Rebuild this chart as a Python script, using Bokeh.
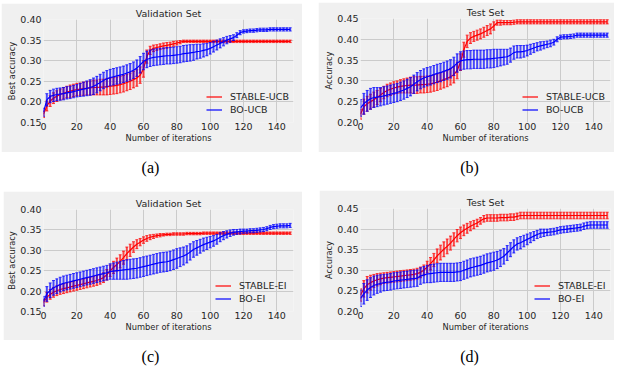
import numpy as np
from bokeh.plotting import figure
from bokeh.layouts import column, row
from bokeh.models import (Range1d, FixedTicker, NumeralTickFormatter, Legend,
                          LegendItem, Label)
from bokeh.embed import file_html
from bokeh.resources import INLINE

# ---------------------------------------------------------------- data
iterations = np.arange(0, 150, 2)
x_ticks = [0, 20, 40, 60, 80, 100, 120, 140]
val_ticks = [0.15, 0.20, 0.25, 0.30, 0.35, 0.40]
test_ticks = [0.20, 0.25, 0.30, 0.35, 0.40, 0.45]
captions = ["(a)", "(b)", "(c)", "(d)"]

# (a) validation set, UCB
val_ucb_stable = [
    0.170, 0.190, 0.202, 0.209, 0.214, 0.218, 0.221, 0.224, 0.226, 0.228,
    0.230, 0.231, 0.232, 0.233, 0.234, 0.235, 0.235, 0.236, 0.236, 0.237,
    0.238, 0.239, 0.240, 0.242, 0.244, 0.247, 0.250, 0.254, 0.258, 0.265,
    0.280, 0.310, 0.325, 0.330, 0.332, 0.334, 0.336, 0.337, 0.339, 0.341,
    0.343, 0.345, 0.347, 0.347, 0.347, 0.347, 0.347, 0.347, 0.347, 0.347,
    0.347, 0.347, 0.347, 0.347, 0.347, 0.347, 0.347, 0.347, 0.347, 0.347,
    0.347, 0.347, 0.347, 0.347, 0.347, 0.347, 0.347, 0.347, 0.347, 0.347,
    0.347, 0.347, 0.347, 0.347, 0.347]
val_ucb_stable_err = [
    0.008, 0.012, 0.013, 0.013, 0.013, 0.013, 0.014, 0.014, 0.015, 0.015,
    0.015, 0.015, 0.016, 0.016, 0.017, 0.018, 0.018, 0.019, 0.019, 0.020,
    0.020, 0.020, 0.020, 0.020, 0.020, 0.020, 0.020, 0.020, 0.020, 0.020,
    0.020, 0.016, 0.010, 0.008, 0.007, 0.007, 0.007, 0.007, 0.006, 0.006,
    0.005, 0.004, 0.003, 0.003, 0.003, 0.003, 0.003, 0.003, 0.003, 0.003,
    0.003, 0.003, 0.003, 0.003, 0.003, 0.003, 0.003, 0.003, 0.003, 0.003,
    0.003, 0.003, 0.003, 0.003, 0.003, 0.003, 0.003, 0.003, 0.003, 0.003,
    0.003, 0.003, 0.003, 0.003, 0.003]
val_ucb_bo = [
    0.175, 0.205, 0.213, 0.216, 0.218, 0.219, 0.220, 0.222, 0.223, 0.225,
    0.227, 0.229, 0.231, 0.233, 0.235, 0.238, 0.242, 0.247, 0.252, 0.256,
    0.259, 0.261, 0.263, 0.265, 0.267, 0.270, 0.273, 0.277, 0.282, 0.290,
    0.298, 0.303, 0.306, 0.308, 0.309, 0.310, 0.311, 0.312, 0.312, 0.313,
    0.314, 0.315, 0.317, 0.318, 0.319, 0.320, 0.322, 0.323, 0.325, 0.327,
    0.330, 0.334, 0.338, 0.342, 0.346, 0.350, 0.353, 0.356, 0.362, 0.368,
    0.371, 0.372, 0.373, 0.373, 0.374, 0.375, 0.375, 0.375, 0.376, 0.376,
    0.376, 0.376, 0.376, 0.376, 0.376]
val_ucb_bo_err = [
    0.010, 0.015, 0.015, 0.015, 0.015, 0.015, 0.015, 0.015, 0.015, 0.015,
    0.015, 0.016, 0.017, 0.018, 0.019, 0.020, 0.020, 0.020, 0.020, 0.020,
    0.020, 0.020, 0.020, 0.020, 0.020, 0.020, 0.020, 0.020, 0.020, 0.020,
    0.020, 0.020, 0.020, 0.020, 0.020, 0.020, 0.020, 0.020, 0.020, 0.020,
    0.020, 0.020, 0.020, 0.020, 0.020, 0.019, 0.018, 0.017, 0.016, 0.015,
    0.014, 0.013, 0.012, 0.011, 0.010, 0.009, 0.008, 0.007, 0.006, 0.005,
    0.004, 0.004, 0.004, 0.004, 0.004, 0.004, 0.004, 0.004, 0.004, 0.004,
    0.004, 0.004, 0.004, 0.004, 0.004]

# (b) test set, UCB
test_ucb_stable = [
    0.220, 0.238, 0.245, 0.250, 0.255, 0.260, 0.266, 0.272, 0.277, 0.280,
    0.283, 0.285, 0.287, 0.288, 0.289, 0.290, 0.290, 0.290, 0.291, 0.291,
    0.292, 0.293, 0.295, 0.297, 0.300, 0.303, 0.306, 0.310, 0.315, 0.325,
    0.345, 0.375, 0.395, 0.403, 0.407, 0.410, 0.413, 0.417, 0.421, 0.425,
    0.432, 0.440, 0.440, 0.440, 0.440, 0.440, 0.441, 0.442, 0.442, 0.442,
    0.442, 0.442, 0.442, 0.442, 0.442, 0.442, 0.442, 0.442, 0.442, 0.442,
    0.442, 0.442, 0.442, 0.442, 0.442, 0.442, 0.442, 0.442, 0.442, 0.442,
    0.442, 0.442, 0.442, 0.442, 0.442]
test_ucb_stable_err = [
    0.012, 0.018, 0.018, 0.018, 0.018, 0.017, 0.016, 0.015, 0.015, 0.015,
    0.015, 0.015, 0.016, 0.017, 0.018, 0.019, 0.020, 0.020, 0.020, 0.020,
    0.020, 0.020, 0.020, 0.020, 0.020, 0.020, 0.020, 0.020, 0.020, 0.020,
    0.020, 0.018, 0.015, 0.013, 0.012, 0.012, 0.012, 0.012, 0.012, 0.012,
    0.010, 0.006, 0.006, 0.005, 0.005, 0.005, 0.005, 0.005, 0.005, 0.005,
    0.005, 0.005, 0.005, 0.005, 0.005, 0.005, 0.005, 0.005, 0.005, 0.005,
    0.005, 0.005, 0.005, 0.005, 0.005, 0.005, 0.005, 0.005, 0.005, 0.005,
    0.005, 0.005, 0.005, 0.005, 0.005]
test_ucb_bo = [
    0.235, 0.245, 0.252, 0.257, 0.260, 0.261, 0.262, 0.264, 0.266, 0.268,
    0.270, 0.272, 0.275, 0.278, 0.282, 0.286, 0.292, 0.298, 0.303, 0.307,
    0.310, 0.312, 0.315, 0.318, 0.320, 0.323, 0.326, 0.329, 0.335, 0.343,
    0.348, 0.350, 0.351, 0.351, 0.352, 0.352, 0.352, 0.352, 0.353, 0.353,
    0.354, 0.355, 0.356, 0.357, 0.358, 0.362, 0.368, 0.370, 0.370, 0.371,
    0.373, 0.376, 0.379, 0.382, 0.384, 0.386, 0.388, 0.390, 0.393, 0.400,
    0.405, 0.406, 0.406, 0.407, 0.408, 0.410, 0.410, 0.410, 0.410, 0.410,
    0.410, 0.410, 0.410, 0.410, 0.410]
test_ucb_bo_err = [
    0.020, 0.025, 0.025, 0.025, 0.024, 0.023, 0.022, 0.022, 0.022, 0.022,
    0.022, 0.022, 0.022, 0.022, 0.022, 0.022, 0.022, 0.022, 0.022, 0.022,
    0.022, 0.022, 0.022, 0.022, 0.022, 0.022, 0.022, 0.022, 0.022, 0.022,
    0.022, 0.022, 0.022, 0.022, 0.022, 0.022, 0.022, 0.022, 0.022, 0.022,
    0.022, 0.021, 0.020, 0.019, 0.018, 0.017, 0.016, 0.015, 0.015, 0.014,
    0.013, 0.012, 0.011, 0.010, 0.010, 0.009, 0.008, 0.008, 0.007, 0.006,
    0.005, 0.005, 0.005, 0.005, 0.005, 0.005, 0.005, 0.005, 0.005, 0.005,
    0.005, 0.005, 0.005, 0.005, 0.005]

# (c) validation set, EI
val_ei_stable = [
    0.172, 0.185, 0.192, 0.197, 0.201, 0.204, 0.206, 0.208, 0.210, 0.212,
    0.214, 0.216, 0.218, 0.220, 0.222, 0.224, 0.226, 0.229, 0.233, 0.240,
    0.250, 0.258, 0.265, 0.273, 0.282, 0.292, 0.300, 0.308, 0.315, 0.320,
    0.325, 0.329, 0.332, 0.334, 0.336, 0.337, 0.338, 0.339, 0.339, 0.340,
    0.340, 0.340, 0.340, 0.341, 0.341, 0.341, 0.341, 0.341, 0.342, 0.342,
    0.342, 0.342, 0.342, 0.342, 0.342, 0.342, 0.342, 0.342, 0.342, 0.342,
    0.342, 0.342, 0.342, 0.342, 0.342, 0.342, 0.342, 0.342, 0.342, 0.342,
    0.342, 0.342, 0.342, 0.342, 0.342]
val_ei_stable_err = [
    0.008, 0.012, 0.012, 0.012, 0.012, 0.012, 0.012, 0.012, 0.012, 0.012,
    0.012, 0.012, 0.012, 0.012, 0.012, 0.012, 0.012, 0.012, 0.012, 0.013,
    0.014, 0.015, 0.016, 0.016, 0.016, 0.016, 0.015, 0.013, 0.011, 0.009,
    0.008, 0.007, 0.006, 0.005, 0.004, 0.004, 0.003, 0.003, 0.003, 0.003,
    0.003, 0.003, 0.003, 0.003, 0.003, 0.003, 0.003, 0.003, 0.003, 0.003,
    0.003, 0.003, 0.003, 0.003, 0.003, 0.003, 0.003, 0.003, 0.003, 0.003,
    0.003, 0.003, 0.003, 0.003, 0.003, 0.003, 0.003, 0.003, 0.003, 0.003,
    0.003, 0.003, 0.003, 0.003, 0.003]
val_ei_bo = [
    0.175, 0.193, 0.202, 0.208, 0.212, 0.216, 0.219, 0.221, 0.223, 0.225,
    0.227, 0.229, 0.231, 0.233, 0.235, 0.237, 0.239, 0.241, 0.243, 0.245,
    0.248, 0.249, 0.250, 0.251, 0.252, 0.253, 0.254, 0.255, 0.256, 0.258,
    0.260, 0.262, 0.264, 0.266, 0.268, 0.270, 0.271, 0.272, 0.274, 0.277,
    0.280, 0.283, 0.286, 0.290, 0.296, 0.302, 0.306, 0.310, 0.314, 0.317,
    0.320, 0.323, 0.327, 0.332, 0.336, 0.339, 0.342, 0.344, 0.345, 0.346,
    0.347, 0.347, 0.348, 0.348, 0.349, 0.350, 0.351, 0.353, 0.356, 0.358,
    0.359, 0.360, 0.360, 0.360, 0.361]
val_ei_bo_err = [
    0.012, 0.018, 0.018, 0.018, 0.018, 0.018, 0.018, 0.018, 0.018, 0.018,
    0.018, 0.018, 0.018, 0.018, 0.018, 0.018, 0.018, 0.018, 0.018, 0.018,
    0.019, 0.020, 0.021, 0.022, 0.023, 0.024, 0.024, 0.024, 0.024, 0.024,
    0.024, 0.024, 0.024, 0.024, 0.024, 0.024, 0.024, 0.024, 0.024, 0.024,
    0.024, 0.023, 0.022, 0.021, 0.020, 0.019, 0.018, 0.017, 0.016, 0.015,
    0.014, 0.013, 0.012, 0.011, 0.010, 0.009, 0.008, 0.007, 0.006, 0.006,
    0.005, 0.005, 0.005, 0.005, 0.005, 0.005, 0.005, 0.005, 0.005, 0.005,
    0.005, 0.005, 0.005, 0.005, 0.005]

# (d) test set, EI
test_ei_stable = [
    0.240, 0.255, 0.265, 0.270, 0.274, 0.277, 0.279, 0.281, 0.282, 0.283,
    0.284, 0.285, 0.286, 0.287, 0.288, 0.289, 0.290, 0.292, 0.295, 0.300,
    0.308, 0.316, 0.325, 0.335, 0.343, 0.351, 0.358, 0.366, 0.375, 0.384,
    0.391, 0.397, 0.402, 0.407, 0.411, 0.415, 0.420, 0.425, 0.427, 0.427,
    0.427, 0.427, 0.428, 0.428, 0.428, 0.429, 0.429, 0.431, 0.433, 0.433,
    0.433, 0.433, 0.433, 0.433, 0.433, 0.433, 0.433, 0.433, 0.433, 0.433,
    0.433, 0.433, 0.433, 0.433, 0.433, 0.433, 0.433, 0.433, 0.433, 0.433,
    0.433, 0.433, 0.433, 0.433, 0.433]
test_ei_stable_err = [
    0.015, 0.020, 0.020, 0.018, 0.016, 0.015, 0.014, 0.013, 0.013, 0.013,
    0.013, 0.013, 0.013, 0.013, 0.013, 0.013, 0.013, 0.013, 0.013, 0.013,
    0.014, 0.015, 0.016, 0.017, 0.018, 0.018, 0.018, 0.017, 0.016, 0.015,
    0.014, 0.013, 0.012, 0.011, 0.010, 0.009, 0.008, 0.008, 0.008, 0.008,
    0.008, 0.008, 0.008, 0.008, 0.008, 0.008, 0.008, 0.008, 0.008, 0.008,
    0.008, 0.008, 0.008, 0.008, 0.008, 0.008, 0.008, 0.008, 0.008, 0.008,
    0.008, 0.008, 0.008, 0.008, 0.008, 0.008, 0.008, 0.008, 0.008, 0.008,
    0.008, 0.008, 0.008, 0.008, 0.008]
test_ei_bo = [
    0.232, 0.243, 0.252, 0.258, 0.263, 0.266, 0.268, 0.270, 0.271, 0.272,
    0.274, 0.275, 0.276, 0.277, 0.278, 0.279, 0.280, 0.281, 0.286, 0.289,
    0.291, 0.292, 0.293, 0.294, 0.295, 0.295, 0.295, 0.295, 0.295, 0.296,
    0.297, 0.300, 0.303, 0.306, 0.308, 0.310, 0.312, 0.315, 0.318, 0.320,
    0.322, 0.325, 0.329, 0.334, 0.342, 0.350, 0.358, 0.364, 0.367, 0.371,
    0.375, 0.379, 0.383, 0.387, 0.390, 0.391, 0.392, 0.393, 0.394, 0.396,
    0.398, 0.399, 0.400, 0.401, 0.402, 0.403, 0.404, 0.407, 0.409, 0.410,
    0.410, 0.410, 0.410, 0.410, 0.410]
test_ei_bo_err = [
    0.020, 0.025, 0.025, 0.024, 0.023, 0.022, 0.021, 0.020, 0.020, 0.020,
    0.020, 0.020, 0.020, 0.020, 0.020, 0.020, 0.020, 0.020, 0.020, 0.020,
    0.021, 0.022, 0.022, 0.022, 0.022, 0.022, 0.022, 0.022, 0.022, 0.022,
    0.022, 0.022, 0.022, 0.022, 0.022, 0.022, 0.022, 0.022, 0.022, 0.022,
    0.022, 0.021, 0.020, 0.019, 0.018, 0.017, 0.016, 0.015, 0.015, 0.014,
    0.013, 0.012, 0.011, 0.010, 0.010, 0.009, 0.008, 0.008, 0.008, 0.008,
    0.008, 0.008, 0.008, 0.008, 0.008, 0.008, 0.008, 0.008, 0.008, 0.008,
    0.008, 0.008, 0.008, 0.008, 0.008]

# ---------------------------------------------------------------- style
BG = "#f0f0f0"
GRID = "#cbcbcb"
TXT = "#262626"
FONT = "DejaVu Sans"
RED = "#ff0000"
BLUE = "#0000ff"


def error_series(p, mean, err, color):
    m = np.asarray(mean)
    e = np.asarray(err)
    x = iterations.astype(float)
    lo, hi = m - e, m + e
    p.segment(x, lo, x, hi, line_color=color, line_width=2.0, line_alpha=0.7)
    p.segment(x - 0.9, lo, x + 0.9, lo, line_color=color, line_width=1.0, line_alpha=0.75)
    p.segment(x - 0.9, hi, x + 0.9, hi, line_color=color, line_width=1.0, line_alpha=0.75)
    line = p.line(x, m, line_color=color, line_width=1.2)
    # cross marker used only for the legend's error-bar symbol
    mark = p.scatter(x=[], y=[], marker="cross", size=8, line_color=color, line_width=1.2)
    return [line, mark]


def panel(title, ylabel, yticks, stable, stable_err, bo, bo_err, names,
          width, height, borders, legend_xy, margin):
    left, right, top, bottom = borders
    p = figure(width=width, height=height, output_backend="svg", toolbar_location=None,
               x_range=Range1d(0, 150), y_range=Range1d(yticks[0], yticks[-1]),
               min_border_left=left, min_border_right=right,
               min_border_top=top, min_border_bottom=bottom)
    p.margin = margin
    p.background_fill_color = BG
    p.border_fill_color = BG
    p.outline_line_color = None

    p.title.text = title
    p.title.align = "center"
    p.title.text_font = FONT
    p.title.text_font_size = "9.5px"
    p.title.text_font_style = "normal"
    p.title.text_color = TXT
    p.title.standoff = 1

    p.xaxis.ticker = FixedTicker(ticks=x_ticks)
    p.yaxis.ticker = FixedTicker(ticks=yticks)
    p.yaxis.formatter = NumeralTickFormatter(format="0.00")
    for ax in (p.xaxis[0], p.yaxis[0]):
        ax.axis_line_color = None
        ax.major_tick_line_color = None
        ax.minor_tick_line_color = None
        ax.major_tick_out = 0
        ax.major_tick_in = 0
        ax.minor_tick_out = 0
        ax.minor_tick_in = 0
        ax.major_label_text_font = FONT
        ax.major_label_text_font_size = "9.5px"
        ax.major_label_text_color = TXT
        ax.axis_label_text_font = FONT
        ax.axis_label_text_font_size = "8.3px"
        ax.axis_label_text_font_style = "normal"
        ax.axis_label_text_color = TXT
    p.xaxis.major_label_standoff = 0
    p.yaxis.major_label_standoff = 2
    p.xaxis.axis_label_standoff = 0
    p.yaxis.axis_label_standoff = 0
    p.xaxis.axis_label = "Number of iterations"
    p.yaxis.axis_label = ylabel
    p.xgrid.grid_line_color = GRID
    p.ygrid.grid_line_color = GRID
    p.xgrid.grid_line_width = 1
    p.ygrid.grid_line_width = 1

    r_stable = error_series(p, stable, stable_err, RED)
    r_bo = error_series(p, bo, bo_err, BLUE)

    legend = Legend(items=[LegendItem(label=names[0], renderers=r_stable),
                           LegendItem(label=names[1], renderers=r_bo)],
                    location=legend_xy, padding=0, margin=0, spacing=0,
                    glyph_width=16, glyph_height=13, label_height=13,
                    label_standoff=8, background_fill_alpha=0,
                    border_line_color=None, label_text_font=FONT,
                    label_text_font_size="9.5px", label_text_color=TXT)
    p.add_layout(legend)
    return p


def caption_strip(height, texts, xs, y):
    c = figure(width=624, height=height, output_backend="svg", toolbar_location=None,
               x_range=Range1d(0, 624), y_range=Range1d(0, height),
               min_border=0)
    c.axis.visible = False
    c.grid.visible = False
    c.outline_line_color = None
    c.background_fill_color = "white"
    c.border_fill_color = "white"
    for t, xx in zip(texts, xs):
        c.add_layout(Label(x=xx, y=y, text=t, text_align="center",
                           text_baseline="middle", text_font="Liberation Serif",
                           text_font_size="16px", text_color="black"))
    return c


pa = panel("Validation Set", "Best accuracy", val_ticks,
           val_ucb_stable, val_ucb_stable_err, val_ucb_bo, val_ucb_bo_err,
           ["STABLE-UCB", "BO-UCB"], 301, 149, (42, 9, 15, 30), (163, 6), (3, 0, 0, 1))
pb = panel("Test Set", "Accuracy", test_ticks,
           test_ucb_stable, test_ucb_stable_err, test_ucb_bo, test_ucb_bo_err,
           ["STABLE-UCB", "BO-UCB"], 296, 150, (42, 4, 16, 30), (162, 6), (2, 0, 0, 16))
pc = panel("Validation Set", "Best accuracy", val_ticks,
           val_ei_stable, val_ei_stable_err, val_ei_bo, val_ei_bo_err,
           ["STABLE-EI", "BO-EI"], 299, 149, (40, 9, 16, 29), (172, 6), (1, 0, 0, 3))
pd_ = panel("Test Set", "Accuracy", test_ticks,
            test_ei_stable, test_ei_stable_err, test_ei_bo, test_ei_bo_err,
            ["STABLE-EI", "BO-EI"], 295, 150, (41, 4, 18, 28), (174, 6), (0, 0, 0, 17))

cap_top = caption_strip(38, captions[:2], [150, 469], 23)
cap_bottom = caption_strip(26, captions[2:], [150, 469], 10)

layout = column(row(pa, pb), cap_top, row(pc, pd_), cap_bottom)

open("out.html", "w").write(file_html(layout, INLINE))
